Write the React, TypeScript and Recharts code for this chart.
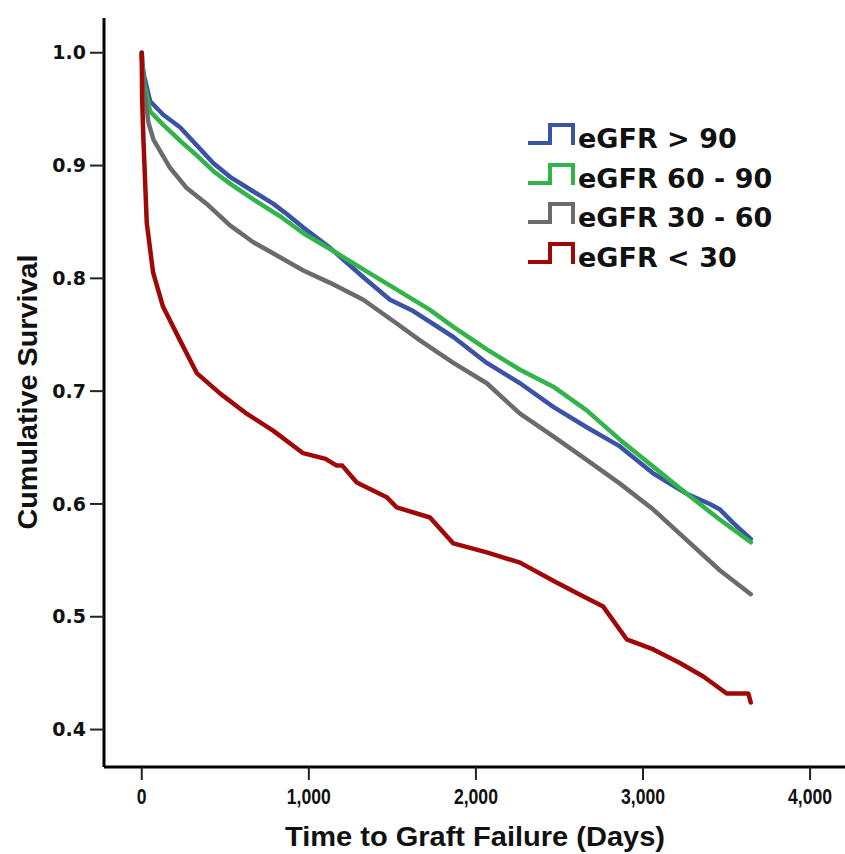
import { LineChart, Line, XAxis, YAxis, Label } from "recharts";

// days since transplant / cumulative survival
const blueDays = [0, 3, 15, 50, 129, 229, 329, 429, 528, 668, 788, 868, 967, 1127, 1326, 1486, 1625, 1865, 2065, 2264, 2463, 2663, 2862, 3062, 3262, 3400, 3461, 3541, 3600, 3645];
const blueSurv = [1.0, 0.99, 0.979, 0.957, 0.945, 0.934, 0.918, 0.902, 0.890, 0.877, 0.866, 0.857, 0.845, 0.827, 0.801, 0.781, 0.771, 0.748, 0.725, 0.707, 0.686, 0.668, 0.651, 0.627, 0.609, 0.600, 0.595, 0.583, 0.575, 0.569];

const greenDays = [0, 3, 15, 50, 129, 229, 329, 429, 528, 668, 828, 967, 1127, 1326, 1526, 1725, 1865, 2065, 2264, 2463, 2663, 2862, 3062, 3262, 3461, 3645];
const greenSurv = [1.0, 0.99, 0.973, 0.948, 0.936, 0.922, 0.909, 0.895, 0.884, 0.870, 0.855, 0.840, 0.826, 0.808, 0.790, 0.772, 0.757, 0.737, 0.719, 0.704, 0.683, 0.657, 0.633, 0.609, 0.586, 0.566];

const grayDays = [0, 3, 15, 40, 70, 169, 269, 389, 528, 668, 788, 967, 1127, 1326, 1526, 1665, 1865, 2065, 2264, 2463, 2663, 2862, 3062, 3262, 3461, 3645];
const graySurv = [1.0, 0.985, 0.967, 0.938, 0.923, 0.898, 0.880, 0.866, 0.847, 0.832, 0.822, 0.807, 0.796, 0.781, 0.760, 0.745, 0.725, 0.707, 0.680, 0.660, 0.639, 0.618, 0.595, 0.568, 0.541, 0.520];

const redDays = [0, 2, 10, 30, 68, 127, 229, 329, 468, 628, 786, 966, 1100, 1167, 1200, 1287, 1466, 1526, 1725, 1865, 2065, 2264, 2463, 2603, 2762, 2902, 3062, 3221, 3361, 3501, 3630, 3645];
const redSurv = [1.0, 0.96, 0.923, 0.849, 0.805, 0.775, 0.745, 0.716, 0.698, 0.680, 0.665, 0.645, 0.640, 0.634, 0.634, 0.619, 0.606, 0.597, 0.588, 0.565, 0.557, 0.548, 0.532, 0.521, 0.509, 0.480, 0.471, 0.459, 0.447, 0.432, 0.432, 0.424];

const groups = ["eGFR > 90", "eGFR 60 - 90", "eGFR 30 - 60", "eGFR < 30"];
const colors = ["#3b53a6", "#33b44a", "#6b6b6b", "#a00808"];

const xTicks = [0, 1000, 2000, 3000, 4000];
const yTicks = [0.4, 0.5, 0.6, 0.7, 0.8, 0.9, 1.0];

const zip = (days: number[], surv: number[]) =>
  days.map((d, i) => ({ day: d, surv: surv[i] }));

const series = [
  zip(blueDays, blueSurv),
  zip(greenDays, greenSurv),
  zip(grayDays, graySurv),
  zip(redDays, redSurv),
];

// narrow bold labels on the x axis (no Arial Narrow here, so squeeze)
function NarrowTick({ x, y, payload }: any) {
  return (
    <g transform={`translate(${x},${y}) scale(0.8,1)`}>
      <text
        x={0}
        y={0}
        dy="0.71em"
        textAnchor="middle"
        style={{ fontFamily: "Liberation Sans", fontWeight: 700, fontSize: 22, fill: "#111" }}
      >
        {Number(payload.value).toLocaleString("en-US")}
      </text>
    </g>
  );
}

function StepLegend() {
  return (
    <div
      style={{
        position: "absolute",
        left: 526,
        top: 119,
        fontFamily: "DejaVu Sans",
        fontWeight: 700,
        fontSize: 27,
        color: "#111",
      }}
    >
      {groups.map((g, i) => (
        <div key={g} style={{ display: "flex", height: 39.5, lineHeight: "39.5px", whiteSpace: "nowrap" }}>
          <svg width={50} height={39} style={{ flex: "none" }}>
            <path d="M2,24 H24 V6 H47 V26" fill="none" stroke={colors[i]} strokeWidth={4} />
          </svg>
          <span style={{ marginLeft: 2 }}>{g}</span>
        </div>
      ))}
    </div>
  );
}

export default function App() {
  return (
    <div style={{ position: "absolute", left: 0, top: 0, width: 845, height: 854, background: "#fff" }}>
      <LineChart width={845} height={854} margin={{ top: 18, right: 0, left: 0, bottom: 0 }}>
        <XAxis
          type="number"
          dataKey="day"
          domain={[-226, 4209]}
          ticks={xTicks}
          allowDataOverflow
          height={87}
          tickSize={13}
          tickMargin={8}
          axisLine={{ stroke: "#000", strokeWidth: 3 }}
          tickLine={{ stroke: "#222", strokeWidth: 2 }}
          tick={<NarrowTick />}
        >
          <Label
            content={() => (
              <text
                x={475}
                y={846}
                textAnchor="middle"
                textLength={380}
                lengthAdjust="spacingAndGlyphs"
                style={{ fontFamily: "Liberation Sans", fontWeight: 700, fontSize: 28, fill: "#111" }}
              >
                Time to Graft Failure (Days)
              </text>
            )}
          />
        </XAxis>
        <YAxis
          type="number"
          domain={[0.3668, 1.0308]}
          ticks={yTicks}
          allowDataOverflow
          width={104}
          tickSize={14}
          tickMargin={4}
          tickFormatter={(v) => v.toFixed(1)}
          axisLine={{ stroke: "#000", strokeWidth: 3 }}
          tickLine={{ stroke: "#222", strokeWidth: 2 }}
          tick={{ fontFamily: "DejaVu Sans", fontWeight: 700, fontSize: 19, fill: "#111" }}
        >
          <Label
            content={() => (
              <text
                x={27}
                y={392}
                transform="rotate(-90 27 392)"
                textAnchor="middle"
                dominantBaseline="central"
                textLength={275}
                lengthAdjust="spacingAndGlyphs"
                style={{ fontFamily: "Liberation Sans", fontWeight: 700, fontSize: 28, fill: "#111" }}
              >
                Cumulative Survival
              </text>
            )}
          />
        </YAxis>
        {series.map((d, i) => (
          <Line
            key={groups[i]}
            data={d}
            dataKey="surv"
            name={groups[i]}
            stroke={colors[i]}
            strokeWidth={4.5}
            strokeLinejoin="round"
            strokeLinecap="round"
            dot={false}
            activeDot={false}
            isAnimationActive={false}
          />
        ))}
      </LineChart>
      <StepLegend />
    </div>
  );
}
